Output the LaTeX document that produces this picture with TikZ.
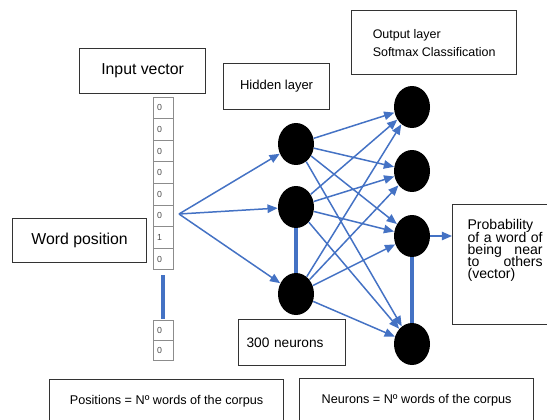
\documentclass[tikz,border=0pt]{standalone}
\usepackage{fontspec}
\setmainfont{Liberation Sans}
\usetikzlibrary{shapes.geometric,arrows.meta}
\definecolor{nnblue}{RGB}{68,114,196}
\tikzset{
  box/.style={draw=black!80, line width=0.7pt, fill=white, anchor=north west, inner sep=0pt},
  cell/.style={draw=black!45, line width=0.45pt, minimum height=0.432cm, text width=0.24cm,
    inner xsep=0.08cm, inner ysep=0pt, align=left, text=black!70, font=\fontsize{5}{6}\selectfont},
  neuron/.style={ellipse, fill=black, minimum width=0.72cm, minimum height=0.84cm, inner sep=0pt},
  link/.style={draw=nnblue, line width=0.85pt, -{Triangle[length=5.8pt,width=4.8pt]}},
  bar/.style={draw=nnblue, line width=2.4pt}
}

\begin{document}
\begin{tikzpicture}[x=0.02cm, y=-0.02cm]
  \useasboundingbox (0,0) rectangle (547,419);

  \node[box, minimum width=2.52cm, minimum height=0.9cm, font=\fontsize{9}{11}\selectfont] (invec) at (79,48) {Input vector};
  \node[box, minimum width=2.12cm, minimum height=0.92cm, font=\fontsize{7.4}{9}\selectfont] (hidbox) at (223,63) {Hidden layer};
  \node[box, minimum width=3.3cm, minimum height=1.28cm, align=left, font=\fontsize{7.1}{10.2}\selectfont] (outbox) at (351,10) {Output layer\\Softmax Classification};
  \node[box, minimum width=2.68cm, minimum height=0.88cm, font=\fontsize{9}{11}\selectfont] (wordpos) at (12,218) {Word position};
  \node[box, minimum width=2.14cm, minimum height=0.92cm, text width=1.82cm, inner xsep=0.16cm, align=left,
    font=\fontsize{7.8}{9}\selectfont] (count) at (238,319) {300 neurons};
  \node[box, minimum width=4.68cm, minimum height=0.88cm, font=\fontsize{7.2}{9}\selectfont] (posbox) at (49,379) {Positions = Nº words of the corpus};
  \node[box, minimum width=4.68cm, minimum height=0.88cm, font=\fontsize{7.2}{9}\selectfont] (neubox) at (299,378) {Neurons = Nº words of the corpus};
  \node[box, inner xsep=0.3cm, inner ysep=0.3cm, font=\fontsize{8}{7}\selectfont] (prob) at (452,204)
    {\parbox[t][1.8cm][t]{1.5cm}{\lineskiplimit=-10pt\hyphenpenalty=10000\tolerance=10000
      Probability of a word of being near to others (vector)}};

  \foreach \v [count=\i] in {0,0,0,0,0,0,1,0}
    \node[cell] (c\i) at (163,{97+21.6*(\i-0.5)}) {\v};
  \foreach \v [count=\i from 9] in {0,0}
    \node[cell, minimum height=0.4cm] (c\i) at (163,{320+20*(\i-8.5)}) {\v};
  \draw[bar] ([yshift=-2.8pt]c8.south) -- ([yshift=0.6pt]c9.north);

  \node[neuron] (h1) at (296,144) {};
  \node[neuron] (h2) at (296,207) {};
  \node[neuron] (h3) at (296,294) {};
  \node[neuron] (o1) at (412,107) {};
  \node[neuron] (o2) at (412,171) {};
  \node[neuron] (o3) at (412,236) {};
  \node[neuron] (o4) at (412,344) {};

  \coordinate (src) at (179,214);
  \foreach \h in {1,2,3}
  {
    \draw[link] (src) -- (h\h);
    \foreach \o in {1,...,4}
      \draw[link] (h\h) -- (o\o);
  }
  \draw[bar] (h2) -- (h3);
  \draw[bar] (o3) -- (o4);
  \draw[link] (o3) -- (o3 -| prob.west);
\end{tikzpicture}
\end{document}
